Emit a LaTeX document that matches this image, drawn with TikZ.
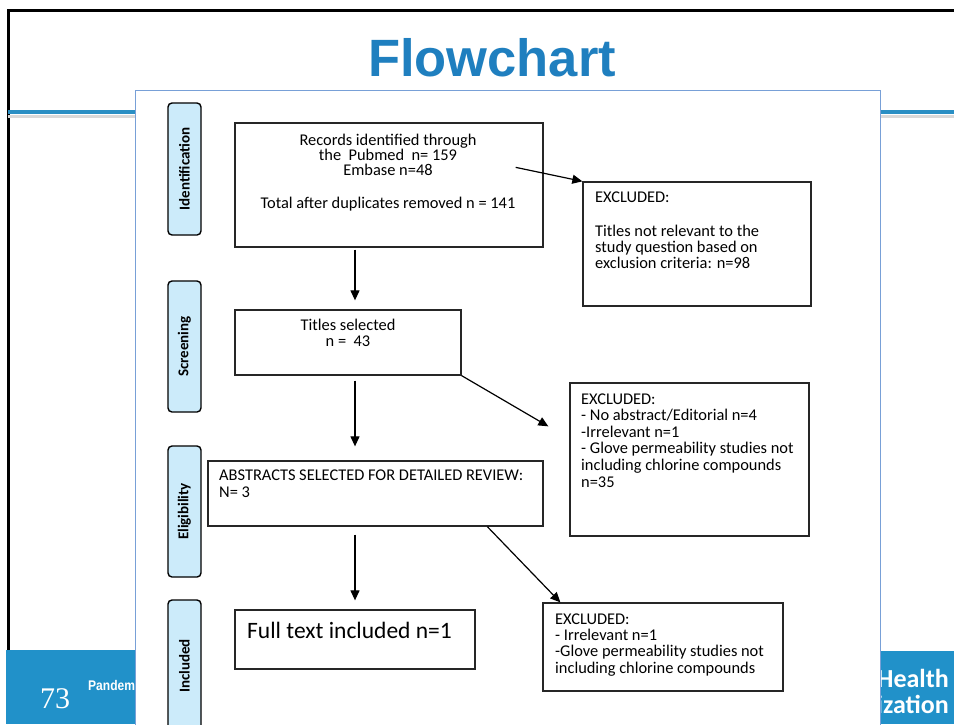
\documentclass[tikz,border=0pt]{standalone}
\usepackage{fontspec}
\setmainfont{Carlito}
\newfontfamily\arialf{Liberation Sans}
\newfontfamily\timesf{Liberation Serif}
\usetikzlibrary{arrows.meta,calc}
\definecolor{titleblue}{RGB}{31,127,191}
\definecolor{lineblue}{RGB}{42,143,196}
\definecolor{bandblue}{RGB}{33,145,201}
\definecolor{phasefill}{RGB}{204,235,250}
\definecolor{panelc}{RGB}{120,160,215}
\begin{document}
\begin{tikzpicture}[x=1pt,y=-1pt,
  box/.style={draw=black!85, line width=1.3pt, inner sep=0pt, fill=white},
  phase/.style={draw=black, line width=1.4pt, fill=phasefill, rounded corners=4pt,
    inner sep=0pt, rotate=90, font=\fontsize{15}{15}\selectfont\bfseries},
  txt/.style={inner sep=0pt, font=\fontsize{16.4}{16.5}\selectfont},
  arr/.style={-{Triangle[length=10pt,width=9pt]}, line width=1.2pt}
]
\useasboundingbox (0,0) rectangle (954,724);
\fill[white] (0,0) rectangle (954,724);
% slide frame
\draw[line width=3pt] (8,724) -- (8,10) -- (954,10);
% title
\node[font=\arialf\bfseries\fontsize{52.5}{52.5}\selectfont, text=titleblue, inner sep=0pt, anchor=base] (title) at (492,76) {Flowchart};
% blue rule
\draw[line width=3pt, black!15] (8,116) -- (954,116);
\draw[line width=4pt, lineblue] (8,112) -- (954,112);
% bottom bands
\fill[bandblue] (6,650) rectangle (135,724);
\fill[bandblue] (880,651) rectangle (954,724);
\node[font=\timesf\fontsize{30}{30}\selectfont, text=white, inner sep=0pt, anchor=base] (pagenum) at (55,708) {73};
\node[font=\arialf\bfseries\fontsize{14}{14}\selectfont, text=white, inner sep=0pt, anchor=base west, xscale=0.86] (foot) at (88,690) {Pandem};
\node[font=\bfseries\fontsize{26}{26}\selectfont, text=white, inner sep=0pt, anchor=base east] (who1) at (949,687) {Health};
\node[font=\bfseries\fontsize{26}{26}\selectfont, text=white, inner sep=0pt, anchor=base east] (who2) at (949,713) {ization};
% panel
\draw[draw=panelc, line width=1pt, fill=white] (135,90) rectangle (880,740);
% phase labels
\node[phase, minimum width=132pt, minimum height=33pt] (p1) at (184.5,169) {Identification};
\node[phase, minimum width=131pt, minimum height=33pt] (p2) at (184.5,346.5) {Screening};
\node[phase, minimum width=131pt, minimum height=33pt] (p3) at (184.5,511.5) {Eligibility};
\node[phase, minimum width=132pt, minimum height=33pt] (p4) at (184.5,666) {Included};
% boxes
\node[box, minimum width=308pt, minimum height=124pt] (b1) at (389,185) {};
\node[box, minimum width=228pt, minimum height=124pt] (ex1) at (697,244) {};
\node[box, minimum width=226pt, minimum height=65pt] (b2) at (348,342.5) {};
\node[box, minimum width=239pt, minimum height=153pt] (ex2) at (689.5,459.5) {};
\node[box, minimum width=335pt, minimum height=65pt] (b3) at (375.5,493.5) {};
\node[box, minimum width=240pt, minimum height=59pt] (b4) at (355,639.5) {};
\node[box, minimum width=240pt, minimum height=88pt] (ex3) at (663,647) {};
% texts (anchor = baseline of the last line)
\node[txt, font=\fontsize{16.4}{15}\selectfont, align=center, anchor=base] (t1) at (388,208) {Records identified through\\the\ \ Pubmed\ \ n= 159\\Embase n=48\\[18pt]Total after duplicates removed n = 141};
\node[txt, font=\fontsize{16.4}{16}\selectfont, align=left, anchor=base west] (tex1) at (595,268) {EXCLUDED:\\[18pt]Titles not relevant to the\\study question based on\\exclusion criteria: n=98};
\node[txt, font=\fontsize{16.4}{15.5}\selectfont, align=center, anchor=base] (t2) at (348,346) {Titles selected\\n =\ \ 43};
\node[txt, font=\fontsize{16.4}{16.6}\selectfont, align=left, anchor=base west] (tex2) at (581,487) {EXCLUDED:\\- No abstract/Editorial n=4\\-Irrelevant n=1\\- Glove permeability studies not\\including chlorine compounds\\n=35};
\node[txt, align=left, anchor=base west] (t3) at (219,497) {ABSTRACTS SELECTED FOR DETAILED REVIEW:\\N= 3};
\node[txt, font=\fontsize{23.5}{23.5}\selectfont, anchor=base west] (t4) at (247,638) {Full text included n=1};
\node[txt, font=\fontsize{16.4}{16.3}\selectfont, align=left, anchor=base west] (tex3) at (555,673) {EXCLUDED:\\- Irrelevant n=1\\-Glove permeability studies not\\including chlorine compounds};
% arrows
\coordinate (colx) at (355,0);
\draw[arr, shorten <=2pt, shorten >=9pt] (b1.south -| colx) -- (b2.north -| colx);
\draw[arr, shorten <=5pt, shorten >=14pt] (b2.south -| colx) -- (b3.north -| colx);
\draw[arr, shorten <=8pt, shorten >=9pt] (b3.south -| colx) -- (b4.north -| colx);
\coordinate (s1) at ($(b1.north east)+(-28,45)$);
\draw[arr] (s1) -- (ex1.north west);
\coordinate (e2) at ($(ex2.north west)+(-21,44)$);
\draw[arr] (b2.south east) -- (e2);
\coordinate (s3) at ($(b3.south west)+(280,0)$);
\coordinate (e3) at ($(ex3.north west)+(18,0)$);
\draw[arr] (s3) -- (e3);
\end{tikzpicture}
\end{document}
